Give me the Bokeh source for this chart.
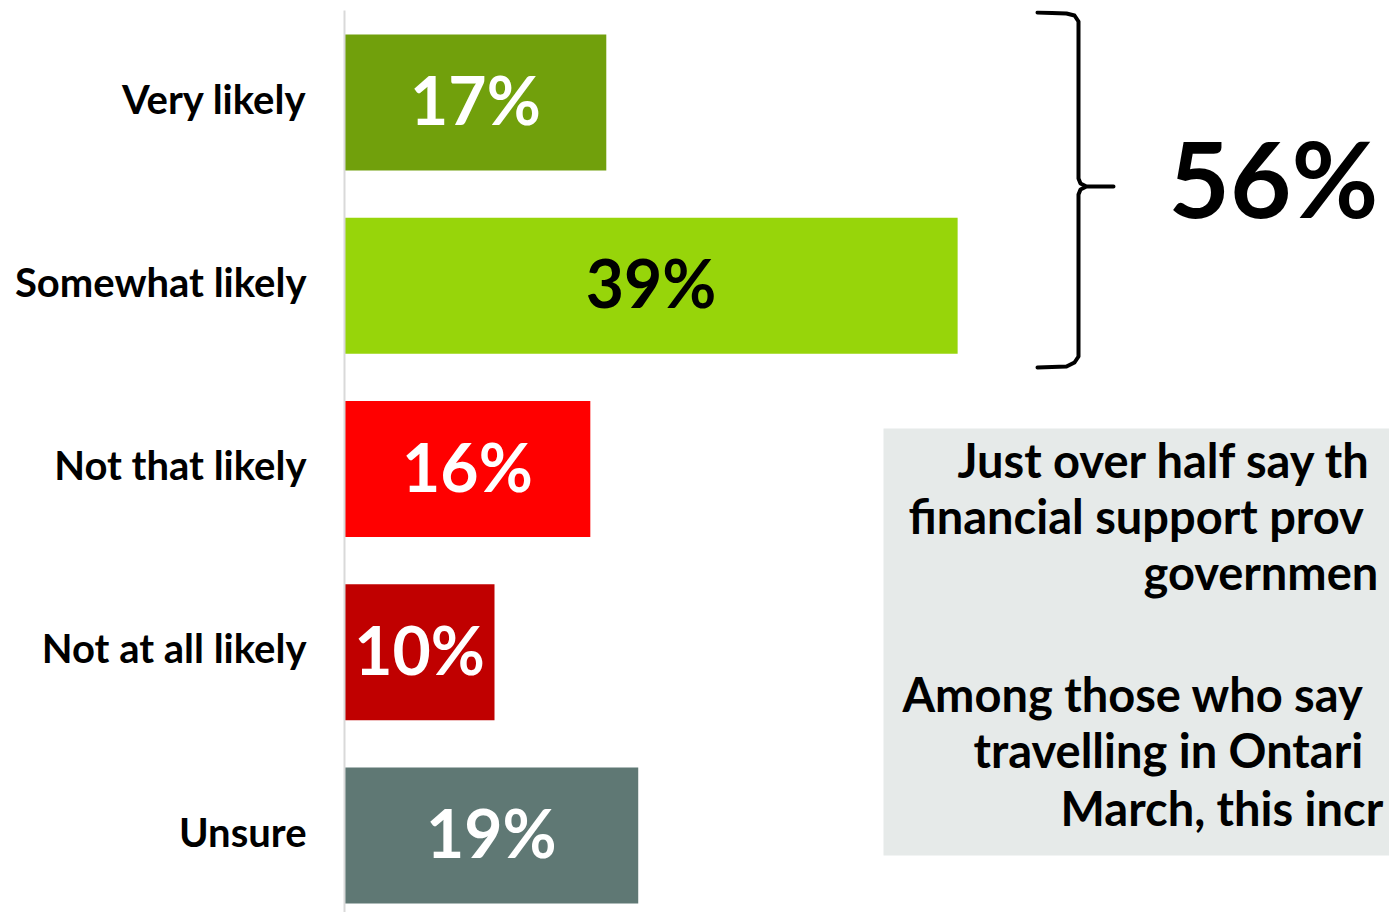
from bokeh.plotting import figure
from bokeh.models import Range1d, FixedTicker, ColumnDataSource, BoxAnnotation
from bokeh.core.properties import value
from bokeh.embed import file_html
from bokeh.resources import INLINE

# ---- data ----
categories = ["Very likely", "Somewhat likely", "Not that likely", "Not at all likely", "Unsure"]
values = [17, 39, 16, 10, 19]
labels = ["17%", "39%", "16%", "10%", "19%"]
colors = ["#71A00C", "#97D50A", "#FF0000", "#C00000", "#5F7874"]
label_colors = ["white", "black", "white", "white", "white"]
total_label = "56%"
box_lines = ["Just over half say th", "financial support prov", "governmen",
             "Among those who say", "travelling in Ontari", "March, this incr"]

FONT = "Lato"

# pixel -> data helpers
X0, XS = 334.3, 15.97     # x pixel of value 0, pixels per percent
Y0, YS = 102.0, 183.25    # y pixel of first category centre, pixels per category
def X(px): return (px - X0) / XS
def Y(py): return (py - Y0) / YS

W, H = 1389, 912
x_start = X(344)
p = figure(width=W, height=H, output_backend="svg", toolbar_location=None,
           x_range=Range1d(x_start, X(W)), y_range=Range1d(Y(H), Y(10)),
           x_axis_location=None, y_axis_location="left",
           min_border_left=344, min_border_right=0, min_border_top=10, min_border_bottom=0)
p.outline_line_color = None
p.grid.visible = False
p.background_fill_color = "white"
p.border_fill_color = "white"

ypos = list(range(len(categories)))
lift = 3 / YS
src = ColumnDataSource(dict(y=ypos, yl=[y - lift for y in ypos], v=values, c=colors, lab=labels,
                            lc=label_colors, xc=[(x_start + v) / 2 for v in values]))
p.hbar(y="y", left=0, right="v", height=136 / YS, fill_color="c", line_color=None, source=src)
p.text(x="xc", y="yl", text="lab", text_color="lc", text_font=value(FONT), text_font_style="bold",
       text_font_size="66px", text_align="center", text_baseline="middle", source=src)

tick_pos = [y - 4 / YS for y in ypos]
ax = p.yaxis[0]
ax.ticker = FixedTicker(ticks=tick_pos)
ax.major_label_overrides = {t: c for t, c in zip(tick_pos, categories)}
ax.major_label_text_font = FONT
ax.major_label_text_font_style = "bold"
ax.major_label_text_font_size = "40px"
ax.major_label_text_color = "black"
ax.major_label_standoff = 38
ax.major_tick_line_color = None
ax.minor_tick_line_color = None
ax.major_tick_out = 0
ax.axis_line_color = "#D9D9D9"
ax.axis_line_width = 2

# brace grouping the two "likely" categories
bx = [1037, 1066, 1074, 1078, 1078, 1080, 1086, 1113, 1086, 1080, 1078, 1078, 1074, 1066, 1037]
by = [12, 13, 15, 21, 178, 183, 186, 186, 186, 189, 194, 356, 362, 366, 367]
p.line([X(v) for v in bx], [Y(v) for v in by], line_color="black", line_width=4,
       line_join="round", line_cap="round")

BASE_FIX = 0.385  # alphabetic baseline correction, fraction of font size
p.text(x=[X(1168)], y=[Y(217 - BASE_FIX * 106)], text=[total_label], text_font=value(FONT),
       text_font_style="bold", text_font_size="106px", text_color="black",
       text_align="left", text_baseline="alphabetic")

# grey commentary box
p.add_layout(BoxAnnotation(left=X(883), right=X(1500), top=Y(428), bottom=Y(855),
                           fill_color="#E6EAE9", fill_alpha=1, line_color=None, level="underlay"))
lx = [957, 908, 1143, 902, 973, 1060]
ly = [478, 534, 590, 712, 768, 826]
p.text(x=[X(v) for v in lx], y=[Y(v - BASE_FIX * 47) for v in ly], text=box_lines,
       text_font=value(FONT), text_font_style="bold", text_font_size="47px", text_color="black",
       text_align="left", text_baseline="alphabetic")

open("out.html", "w").write(file_html(p, INLINE))
